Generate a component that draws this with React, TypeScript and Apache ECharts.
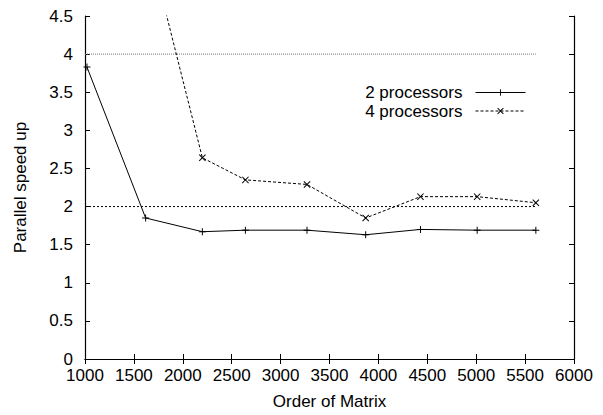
import React, { useEffect, useRef } from "react";
import * as echarts from "echarts";

const xValues = [1020, 1620, 2200, 2640, 3270, 3870, 4430, 5010, 5610];
const proc2 = [3.83, 1.85, 1.67, 1.69, 1.69, 1.63, 1.7, 1.69, 1.69];
const proc4 = [7.5, 5.6, 2.64, 2.35, 2.29, 1.85, 2.13, 2.13, 2.05];
const refLevels = [4, 2];
const refRange = [1000, 5610];
const seriesNames = ["2 processors", "4 processors"];

const PLUS = "path://M4.3,0H5.7V4.3H10V5.7H5.7V10H4.3V5.7H0V4.3H4.3Z";
const CROSS =
  "path://M0,1L1,0L5,4L9,0L10,1L6,5L10,9L9,10L5,6L1,10L0,9L4,5Z";

const FONT = "Liberation Sans, Arial, Helvetica, sans-serif";
const FS = 17;

export default function App() {
  const ref = useRef<HTMLDivElement>(null);
  useEffect(() => {
    if (!ref.current) return;
    const chart = echarts.init(ref.current, undefined, { renderer: "svg" });
    const axisCommon = {
      type: "value" as const,
      axisLine: { show: true, lineStyle: { color: "#000", width: 1.2 } },
      axisTick: { show: true, inside: true, length: 5, lineStyle: { color: "#000" } },
      splitLine: { show: false },
    };
    chart.setOption({
      animation: false,
      backgroundColor: "#fff",
      textStyle: { fontFamily: FONT },
      grid: { left: 85, right: 29, top: 16, bottom: 54 },
      legend: {
        data: seriesNames,
        orient: "vertical",
        align: "right",
        right: 77,
        top: 84,
        padding: 0,
        itemWidth: 50,
        itemHeight: 8,
        itemGap: 1.5,
        lineStyle: { width: 1 },
        formatter: "{a|{name}}",
        textStyle: {
          fontSize: FS,
          color: "#000",
          fontFamily: FONT,
          rich: {
            a: {
              fontSize: FS,
              lineHeight: 17,
              color: "#000",
              fontFamily: FONT,
              padding: [0, 8, 0, 0],
            },
          },
        },
      },
      xAxis: [
        {
          ...axisCommon,
          min: 1000,
          max: 6000,
          interval: 500,
          name: "Order of Matrix",
          nameLocation: "middle",
          nameGap: 34,
          nameTextStyle: { fontSize: FS, color: "#000", fontFamily: FONT },
          axisLabel: {
            color: "#000",
            fontSize: FS,
            margin: 8,
            fontFamily: FONT,
            formatter: (v: number) => String(v),
          },
        },
        {
          ...axisCommon,
          position: "top",
          min: 1000,
          max: 6000,
          interval: 500,
          axisLabel: { show: false },
        },
      ],
      yAxis: [
        {
          ...axisCommon,
          min: 0,
          max: 4.5,
          interval: 0.5,
          name: "Parallel speed up",
          nameLocation: "middle",
          nameGap: 56,
          nameTextStyle: { fontSize: FS, color: "#000", fontFamily: FONT },
          axisLabel: { color: "#000", fontSize: FS, margin: 12, fontFamily: FONT },
        },
        {
          ...axisCommon,
          position: "right",
          min: 0,
          max: 4.5,
          interval: 0.5,
          axisLabel: { show: false },
        },
      ],
      series: [
        {
          name: "ref4",
          type: "line",
          data: refRange.map((x) => [x, refLevels[0]]),
          showSymbol: false,
          symbol: "none",
          lineStyle: { color: "#777", width: 1, type: [1, 1] },
          silent: true,
          z: 1,
        },
        {
          name: "ref2",
          type: "line",
          data: refRange.map((x) => [x, refLevels[1]]),
          showSymbol: false,
          symbol: "none",
          lineStyle: { color: "#000", width: 1, type: [2, 2] },
          silent: true,
          z: 1,
        },
        {
          name: seriesNames[0],
          type: "line",
          data: xValues.map((x, i) => [x, proc2[i]]),
          symbol: PLUS,
          symbolSize: 7,
          itemStyle: { color: "#000" },
          lineStyle: { color: "#000", width: 1, type: "solid" },
          clip: true,
          z: 3,
        },
        {
          name: seriesNames[1],
          type: "line",
          data: xValues.map((x, i) => [x, proc4[i]]),
          symbol: CROSS,
          symbolSize: 7,
          itemStyle: { color: "#000" },
          lineStyle: { color: "#000", width: 1, type: [3, 2] },
          clip: true,
          z: 3,
        },
      ],
    });
    return () => chart.dispose();
  }, []);
  return (
    <div
      ref={ref}
      style={{ position: "absolute", left: 0, top: 0, width: 603, height: 415 }}
    />
  );
}
